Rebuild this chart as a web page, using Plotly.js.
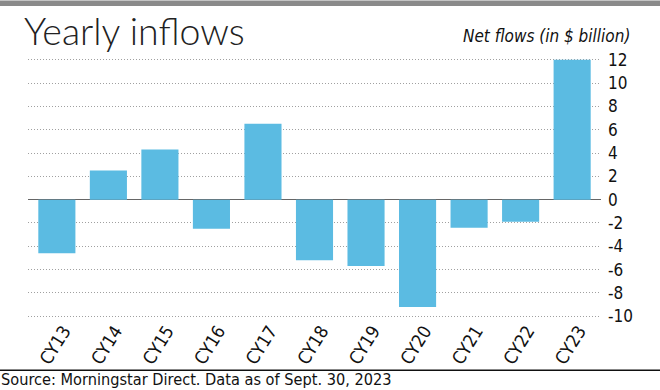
<!DOCTYPE html>
<html>
<head>
<meta charset="utf-8">
<script src="https://cdn.plot.ly/plotly-3.0.1.min.js"></script>
<style>
html,body{margin:0;padding:0;background:#fff;}
#chart{width:660px;height:390px;}
</style>
</head>
<body>
<div id="chart"></div>
<script>
// ---- data ----
const categories = ['CY13','CY14','CY15','CY16','CY17','CY18','CY19','CY20','CY21','CY22','CY23'];
const netFlows = [-4.6, 2.5, 4.3, -2.5, 6.5, -5.2, -5.7, -9.2, -2.4, -1.9, 12.0];
const yTickValues = [-10,-8,-6,-4,-2,0,2,4,6,8,10,12];
const yTickLabels = ['-10','-8','-6','-4','-2','0','2','4','6','8','10','12'];
const titleText = 'Yearly inflows';
const unitText = 'Net flows (in $ billion)';
const sourceText = 'Source: Morningstar Direct. Data as of Sept. 30, 2023';

// ---- layout geometry (pixels) ----
const W = 660, H = 390;
const M = {l: 28, r: 59, t: 57.5, b: 72.3};
const plotW = W - M.l - M.r, plotH = H - M.t - M.b;
const px = x => (x - M.l) / plotW;          // pixel x -> paper x
const py = y => (H - M.b - y) / plotH;      // pixel y -> paper y

const narrow = '"Liberation Sans Narrow", "DejaVu Sans Condensed", "Roboto Condensed", sans-serif';

const trace = {
  type: 'bar',
  x: categories,
  y: netFlows,
  marker: {color: '#5bbbe2', line: {width: 0}},
  hoverinfo: 'skip'
};

const layout = {
  width: W, height: H,
  margin: M,
  paper_bgcolor: '#ffffff',
  plot_bgcolor: '#ffffff',
  showlegend: false,
  bargap: 0.28,
  font: {family: narrow, color: '#111', size: 17},
  xaxis: {
    type: 'category',
    range: [-0.56, 10.56],
    showgrid: false, zeroline: false, showline: false,
    ticks: '',
    tickangle: -58,
    ticklabelshift: 7,
    ticklabelstandoff: -2,
    tickfont: {family: narrow, size: 18, color: '#111'},
    fixedrange: true
  },
  yaxis: {
    side: 'right',
    range: [-10.15, 12.15],
    tickvals: yTickValues,
    ticktext: yTickLabels,
    showgrid: true,
    gridcolor: '#a0a0a0',
    gridwidth: 1,
    griddash: '1px,2px',
    zeroline: true,
    zerolinecolor: '#666666',
    zerolinewidth: 1.5,
    showline: false,
    ticks: '',
    ticklabelstandoff: 6,
    tickfont: {family: narrow, size: 17, color: '#111'},
    fixedrange: true
  },
  shapes: [
    {type: 'rect', xref: 'paper', yref: 'paper', x0: px(0), x1: px(W), y0: py(0), y1: py(5.5),
     fillcolor: '#8a8a8a', line: {width: 0}, layer: 'above'},
    {type: 'line', xref: 'paper', yref: 'paper', x0: px(0), x1: px(W), y0: py(370), y1: py(370),
     line: {color: '#111', width: 1.5}, layer: 'above'}
  ],
  annotations: [
    {text: titleText, xref: 'paper', yref: 'paper', x: px(22), y: py(30),
     xanchor: 'left', yanchor: 'middle', showarrow: false,
     font: {family: 'Lato, "Open Sans", Roboto, sans-serif', weight: 300, size: 37.5, color: '#222'}},
    {text: '<i>' + unitText + '</i>', xref: 'paper', yref: 'paper', x: px(632), y: py(35),
     xanchor: 'right', yanchor: 'middle', showarrow: false,
     font: {family: narrow, size: 17, color: '#111'}},
    {text: sourceText, xref: 'paper', yref: 'paper', x: px(-1), y: py(379.5),
     xanchor: 'left', yanchor: 'middle', showarrow: false,
     font: {family: narrow, size: 16.2, color: '#111'}}
  ]
};

Plotly.newPlot('chart', [trace], layout, {displayModeBar: false, staticPlot: true});
</script>
</body>
</html>
